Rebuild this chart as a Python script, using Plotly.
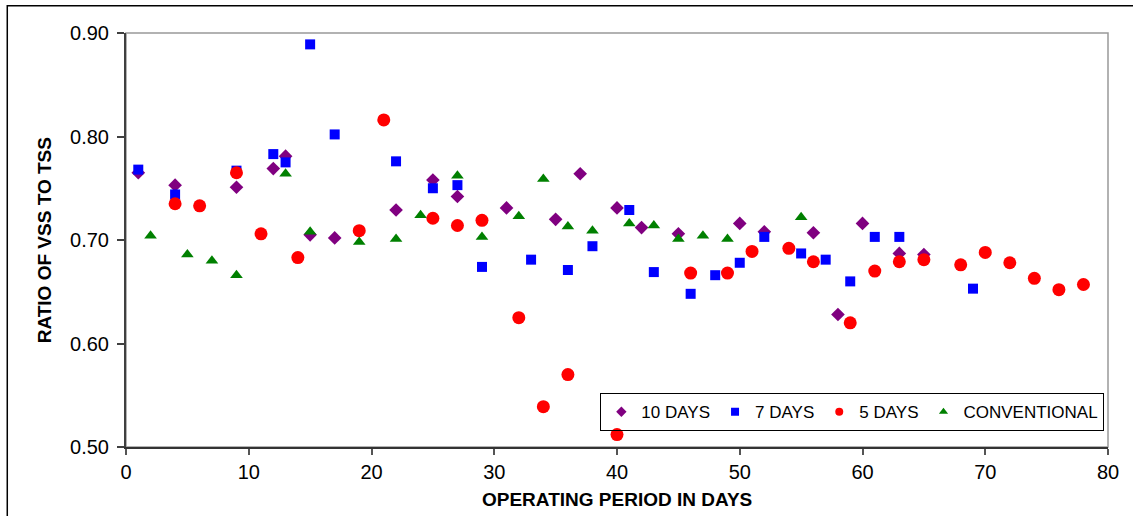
import plotly.graph_objects as go

# values (ratio of VSS to TSS vs operating day)
days_10 = [1, 4, 9, 12, 13, 15, 17, 22, 25, 27, 31, 35, 37, 40, 42, 45, 50, 52, 56, 58, 60, 63, 65]
vss_10 = [0.765, 0.753, 0.751, 0.769, 0.781, 0.705, 0.702, 0.729, 0.758, 0.742, 0.731, 0.720, 0.764,
          0.731, 0.712, 0.706, 0.716, 0.708, 0.707, 0.628, 0.716, 0.687, 0.686]

days_7 = [1, 4, 9, 12, 13, 15, 17, 22, 25, 27, 29, 33, 36, 38, 41, 43, 46, 48, 50, 52, 55, 57, 59,
          61, 63, 69]
vss_7 = [0.768, 0.744, 0.767, 0.783, 0.775, 0.889, 0.802, 0.776, 0.750, 0.753, 0.674, 0.681, 0.671,
         0.694, 0.729, 0.669, 0.648, 0.666, 0.678, 0.703, 0.687, 0.681, 0.660, 0.703, 0.703, 0.653]

days_5 = [4, 6, 9, 11, 14, 19, 21, 25, 27, 29, 32, 34, 36, 40, 46, 49, 51, 54, 56, 59, 61, 63, 65,
          68, 70, 72, 74, 76, 78]
vss_5 = [0.735, 0.733, 0.765, 0.706, 0.683, 0.709, 0.816, 0.721, 0.714, 0.719, 0.625, 0.539, 0.570,
         0.512, 0.668, 0.668, 0.689, 0.692, 0.679, 0.620, 0.670, 0.679, 0.681, 0.676, 0.688, 0.678,
         0.663, 0.652, 0.657]

days_conv = [2, 5, 7, 9, 13, 15, 19, 22, 24, 27, 29, 32, 34, 36, 38, 41, 43, 45, 47, 49, 55]
vss_conv = [0.704, 0.686, 0.680, 0.666, 0.764, 0.708, 0.698, 0.701, 0.724, 0.762, 0.703, 0.723,
            0.759, 0.713, 0.709, 0.716, 0.714, 0.701, 0.704, 0.701, 0.722]

series = [
    ("10 DAYS", days_10, vss_10, "diamond", "#800080", 10.5),
    ("7 DAYS", days_7, vss_7, "square", "#0000FF", 10),
    ("5 DAYS", days_5, vss_5, "circle", "#FF0000", 13),
    ("CONVENTIONAL", days_conv, vss_conv, "triangle-up", "#008000", 11),
]

FONT = "Liberation Sans, Arial, sans-serif"

fig = go.Figure()
for name, x, y, sym, col, size in series:
    fig.add_trace(go.Scatter(x=x, y=y, mode="markers", name=name, showlegend=False,
                             marker=dict(symbol=sym, color=col, size=size, line=dict(width=0))))
# legend-only entries so the legend symbols stay small
for name, x, y, sym, col, size in series:
    fig.add_trace(go.Scatter(x=[None], y=[None], mode="markers", name=name,
                             marker=dict(symbol=sym, color=col, size=8, line=dict(width=0))))

fig.update_layout(
    width=1133, height=516,
    margin=dict(l=126, r=25, t=33, b=69),
    paper_bgcolor="white", plot_bgcolor="white",
    font=dict(family=FONT, color="black"),
    showlegend=True,
    legend=dict(orientation="h", x=0.9963, xanchor="right", y=0.084, yanchor="middle",
                bgcolor="rgba(255,255,255,0)", bordercolor="black", borderwidth=1,
                font=dict(size=17, family=FONT), itemwidth=30),
    xaxis=dict(range=[0, 80], dtick=10, showgrid=False, zeroline=False,
               showline=True, linecolor="#333333", linewidth=1.5,
               ticks="outside", ticklen=6, tickcolor="#555555", tickwidth=1.5,
               tickfont=dict(size=20)),
    yaxis=dict(range=[0.5, 0.9], dtick=0.1, tickformat=".2f", showgrid=False, zeroline=False,
               showline=True, linecolor="#404040", linewidth=2,
               ticks="outside", ticklen=7, tickcolor="#404040", tickwidth=1.5,
               tickfont=dict(size=20), ticklabelstandoff=4),
    shapes=[
        # grey top/right border of the plot area
        dict(type="rect", xref="paper", yref="paper", x0=0, x1=1, y0=0, y1=1,
             line=dict(color="#999999", width=1.5), layer="below"),
        # outer chart frame (only top and left edges fall inside the picture)
        dict(type="rect", xref="paper", yref="paper", x0=-0.1209, x1=1.04, y0=-0.2, y1=1.066,
             line=dict(color="black", width=1.5), layer="below"),
    ],
    annotations=[
        dict(text="<b>OPERATING PERIOD IN DAYS</b>", xref="paper", yref="paper", x=0.5, y=-0.127,
             xanchor="center", yanchor="middle", showarrow=False, font=dict(size=19)),
        dict(text="<b>RATIO OF VSS TO TSS</b>", xref="paper", yref="paper", x=-0.0832, y=0.5,
             xanchor="center", yanchor="middle", textangle=-90, showarrow=False,
             font=dict(size=19)),
    ],
)

# drop the browser's default 8px page margin so the figure sits at the window corner
fig.write_html("out.html", config={"displayModeBar": False},
               post_script="document.body.style.margin='0';")
